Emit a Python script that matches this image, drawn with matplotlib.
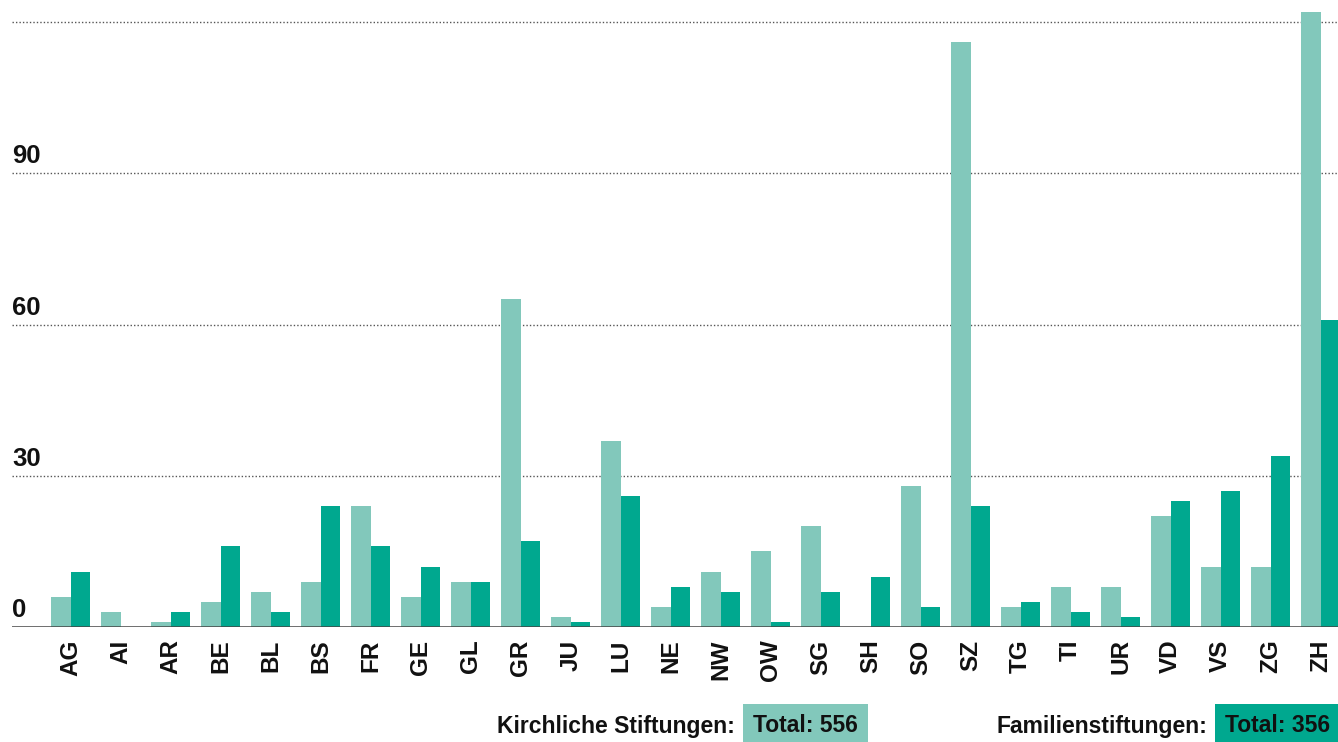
import numpy as np
import matplotlib
matplotlib.use("Agg")
import matplotlib.pyplot as plt
from matplotlib.transforms import blended_transform_factory

# Stiftungen pro Kanton
kantone = ["AG", "AI", "AR", "BE", "BL", "BS", "FR", "GE", "GL", "GR", "JU", "LU", "NE",
           "NW", "OW", "SG", "SH", "SO", "SZ", "TG", "TI", "UR", "VD", "VS", "ZG", "ZH"]
kirchliche = [6, 3, 1, 5, 7, 9, 24, 6, 9, 65, 2, 37, 4,
              11, 15, 20, 0, 28, 116, 4, 8, 8, 22, 12, 12, 122]
familien = [11, 0, 3, 16, 3, 24, 16, 12, 9, 17, 1, 26, 8,
            7, 1, 7, 10, 4, 24, 5, 3, 2, 25, 27, 34, 61]
y_ticks = [0, 30, 60, 90]
grid_lines = [30, 60, 90, 120]

light = "#82c8bb"
dark = "#00a88f"

plt.rcParams["font.family"] = ["Liberation Sans", "DejaVu Sans"]

fig = plt.figure(figsize=(13.38, 7.42), dpi=100)
ax = fig.add_axes([12 / 1338, 115 / 742, 1 - 12 / 1338, 627 / 742])

x = np.arange(len(kantone))
w = 0.39
ax.bar(x - w / 2, kirchliche, width=w, color=light, zorder=3)
ax.bar(x + w / 2, familien, width=w, color=dark, zorder=3)

ax.set_xlim(-1.18, 25.35)
ax.set_ylim(0, 124.4)

for g in grid_lines:
    ax.axhline(g, color="#555555", lw=1, ls=(0, (1, 1.5)), zorder=1)
ax.axhline(0, color="#444444", lw=1.8, zorder=4)

trans = blended_transform_factory(ax.transAxes, ax.transData)
for t in y_ticks:
    ax.text(0, t + 1.0, str(t), transform=trans, ha="left", va="bottom",
            fontsize=18.5, fontweight="bold", color="#111111")

ax.set_yticks([])
ax.set_xticks(x)
ax.set_xticklabels(kantone, rotation=90, fontsize=17.5, fontweight="bold", color="#111111")
ax.tick_params(axis="x", length=0, pad=9)
for s in ax.spines.values():
    s.set_visible(False)

# Legende mit Totalen
fig.text(735 / 1338, 16 / 742, "Kirchliche Stiftungen:", ha="right", va="center",
         fontsize=16.5, fontweight="bold", color="#111111")
fig.text(753 / 1338, 16 / 742, f"Total: {sum(kirchliche)}", ha="left", va="center",
         fontsize=16.5, fontweight="bold", color="#111111",
         bbox=dict(boxstyle="square,pad=0.45", fc=light, ec="none"))
fig.text(1207 / 1338, 16 / 742, "Familienstiftungen:", ha="right", va="center",
         fontsize=16.5, fontweight="bold", color="#111111")
fig.text(1225 / 1338, 16 / 742, f"Total: {sum(familien)}", ha="left", va="center",
         fontsize=16.5, fontweight="bold", color="#111111",
         bbox=dict(boxstyle="square,pad=0.45", fc=dark, ec="none"))

fig.savefig("out.png", dpi=100)
